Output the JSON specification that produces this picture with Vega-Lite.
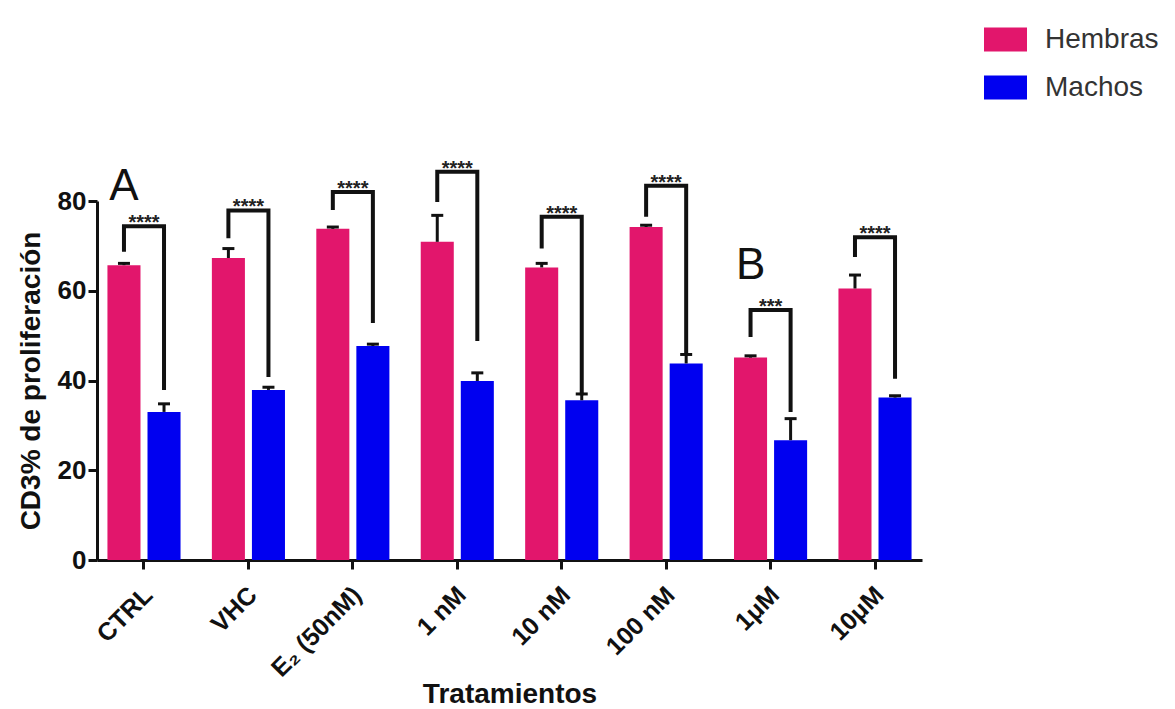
{
  "$schema": "https://vega.github.io/schema/vega-lite/v6.json",
  "width": 825,
  "height": 359,
  "autosize": {"type": "none"},
  "padding": {"left": 97, "top": 201, "right": 253, "bottom": 149},
  "background": "white",
  "config": {
    "view": {"stroke": null},
    "font": "Liberation Sans",
    "axis": {
      "grid": false,
      "domainColor": "#111",
      "domainWidth": 3,
      "tickColor": "#111",
      "tickWidth": 3,
      "tickSize": 9,
      "labelFont": "Liberation Sans",
      "labelFontWeight": "bold",
      "labelColor": "#111",
      "titleFont": "Liberation Sans",
      "titleFontWeight": "bold",
      "titleColor": "#111"
    },
    "legend": {
      "orient": "none",
      "legendX": 887,
      "legendY": -183,
      "symbolType": "M-1,-0.56H1V0.56H-1Z",
      "symbolSize": 1849,
      "symbolStrokeWidth": 0,
      "symbolOpacity": 1,
      "labelFont": "Liberation Sans",
      "labelFontSize": 28,
      "labelColor": "#333",
      "labelOffset": 18,
      "rowPadding": 12,
      "padding": 0
    }
  },
  "datasets": {
    "bars": [
      {"t": "CTRL", "sex": "Hembras", "v": 65.7, "hi": 66.1},
      {"t": "CTRL", "sex": "Machos", "v": 33.0, "hi": 34.8},
      {"t": "VHC", "sex": "Hembras", "v": 67.3, "hi": 69.4},
      {"t": "VHC", "sex": "Machos", "v": 37.9, "hi": 38.5},
      {"t": "E₂ (50nM)", "sex": "Hembras", "v": 73.8, "hi": 74.2},
      {"t": "E₂ (50nM)", "sex": "Machos", "v": 47.7, "hi": 48.1},
      {"t": "1 nM", "sex": "Hembras", "v": 70.9, "hi": 76.8},
      {"t": "1 nM", "sex": "Machos", "v": 39.9, "hi": 41.7},
      {"t": "10 nM", "sex": "Hembras", "v": 65.2, "hi": 66.1},
      {"t": "10 nM", "sex": "Machos", "v": 35.6, "hi": 37.0},
      {"t": "100 nM", "sex": "Hembras", "v": 74.2, "hi": 74.6},
      {"t": "100 nM", "sex": "Machos", "v": 43.8, "hi": 45.8},
      {"t": "1μM", "sex": "Hembras", "v": 45.1, "hi": 45.5},
      {"t": "1μM", "sex": "Machos", "v": 26.7, "hi": 31.5},
      {"t": "10μM", "sex": "Hembras", "v": 60.5, "hi": 63.5},
      {"t": "10μM", "sex": "Machos", "v": 36.2, "hi": 36.6}
    ],
    "brackets": [
      {"t": "CTRL", "sex": "Hembras", "v": 68.7, "o": 1},
      {"t": "CTRL", "sex": "Hembras", "v": 74.4, "o": 2},
      {"t": "CTRL", "sex": "Machos", "v": 74.4, "o": 3},
      {"t": "CTRL", "sex": "Machos", "v": 37.9, "o": 4},
      {"t": "VHC", "sex": "Hembras", "v": 71.7, "o": 1},
      {"t": "VHC", "sex": "Hembras", "v": 77.9, "o": 2},
      {"t": "VHC", "sex": "Machos", "v": 77.9, "o": 3},
      {"t": "VHC", "sex": "Machos", "v": 40.8, "o": 4},
      {"t": "E₂ (50nM)", "sex": "Hembras", "v": 78.0, "o": 1},
      {"t": "E₂ (50nM)", "sex": "Hembras", "v": 82.0, "o": 2},
      {"t": "E₂ (50nM)", "sex": "Machos", "v": 82.0, "o": 3},
      {"t": "E₂ (50nM)", "sex": "Machos", "v": 52.8, "o": 4},
      {"t": "1 nM", "sex": "Hembras", "v": 79.8, "o": 1},
      {"t": "1 nM", "sex": "Hembras", "v": 86.5, "o": 2},
      {"t": "1 nM", "sex": "Machos", "v": 86.5, "o": 3},
      {"t": "1 nM", "sex": "Machos", "v": 48.8, "o": 4},
      {"t": "10 nM", "sex": "Hembras", "v": 69.4, "o": 1},
      {"t": "10 nM", "sex": "Hembras", "v": 76.5, "o": 2},
      {"t": "10 nM", "sex": "Machos", "v": 76.5, "o": 3},
      {"t": "10 nM", "sex": "Machos", "v": 36.7, "o": 4},
      {"t": "100 nM", "sex": "Hembras", "v": 76.5, "o": 1},
      {"t": "100 nM", "sex": "Hembras", "v": 83.4, "o": 2},
      {"t": "100 nM", "sex": "Machos", "v": 83.4, "o": 3},
      {"t": "100 nM", "sex": "Machos", "v": 46.1, "o": 4},
      {"t": "1μM", "sex": "Hembras", "v": 49.7, "o": 1},
      {"t": "1μM", "sex": "Hembras", "v": 55.7, "o": 2},
      {"t": "1μM", "sex": "Machos", "v": 55.7, "o": 3},
      {"t": "1μM", "sex": "Machos", "v": 33.0, "o": 4},
      {"t": "10μM", "sex": "Hembras", "v": 67.5, "o": 1},
      {"t": "10μM", "sex": "Hembras", "v": 71.9, "o": 2},
      {"t": "10μM", "sex": "Machos", "v": 71.9, "o": 3},
      {"t": "10μM", "sex": "Machos", "v": 40.4, "o": 4}
    ],
    "stars": [
      {"t": "CTRL", "v": 74.4, "s": "****"},
      {"t": "VHC", "v": 77.9, "s": "****"},
      {"t": "E₂ (50nM)", "v": 82.0, "s": "****"},
      {"t": "1 nM", "v": 86.5, "s": "****"},
      {"t": "10 nM", "v": 76.5, "s": "****"},
      {"t": "100 nM", "v": 83.4, "s": "****"},
      {"t": "1μM", "v": 55.7, "s": "***"},
      {"t": "10μM", "v": 71.9, "s": "****"}
    ],
    "letters": [
      {"t": "CTRL", "sex": "Hembras", "v": 80.2, "s": "A"},
      {"t": "1μM", "sex": "Hembras", "v": 62.6, "s": "B"}
    ]
  },
  "encoding": {
    "x": {
      "field": "t",
      "type": "nominal",
      "sort": ["CTRL", "VHC", "E₂ (50nM)", "1 nM", "10 nM", "100 nM", "1μM", "10μM"],
      "scale": {"paddingInner": 0.3, "paddingOuter": 0.1},
      "axis": {
        "title": "Tratamientos",
        "labelAngle": -45,
        "labelFontSize": 25,
        "labelPadding": 13,
        "labelOffset": -4,
        "titleFontSize": 28,
        "titleBaseline": "alphabetic",
        "titleY": 142
      }
    },
    "y": {
      "field": "v",
      "type": "quantitative",
      "scale": {"domain": [0, 80], "nice": false},
      "axis": {
        "title": "CD3% de proliferación",
        "values": [0, 20, 40, 60, 80],
        "labelFontSize": 26,
        "labelPadding": 2,
        "titleFontSize": 28,
        "titleBaseline": "alphabetic",
        "titleX": -58,
        "titleY": 179.5
      }
    }
  },
  "layer": [
    {
      "data": {"name": "bars"},
      "mark": {"type": "bar"},
      "encoding": {
        "xOffset": {"field": "sex", "type": "nominal", "sort": ["Hembras", "Machos"], "scale": {"paddingInner": 0.175, "paddingOuter": 0}},
        "color": {
          "field": "sex",
          "type": "nominal",
          "scale": {"domain": ["Hembras", "Machos"], "range": ["#E2166C", "#0000F0"]},
          "legend": {"title": null}
        }
      }
    },
    {
      "data": {"name": "bars"},
      "mark": {"type": "rule", "color": "#111", "strokeWidth": 3},
      "encoding": {
        "xOffset": {"field": "sex", "type": "nominal", "sort": ["Hembras", "Machos"]},
        "y2": {"field": "hi"}
      }
    },
    {
      "data": {"name": "bars"},
      "mark": {"type": "tick", "color": "#111", "size": 12, "thickness": 3, "opacity": 1},
      "encoding": {
        "xOffset": {"field": "sex", "type": "nominal", "sort": ["Hembras", "Machos"]},
        "y": {"field": "hi", "type": "quantitative"}
      }
    },
    {
      "data": {"name": "brackets"},
      "mark": {"type": "line", "color": "#111", "strokeWidth": 4, "strokeJoin": "miter"},
      "encoding": {
        "xOffset": {"field": "sex", "type": "nominal", "sort": ["Hembras", "Machos"]},
        "detail": {"field": "t"},
        "order": {"field": "o", "type": "quantitative"}
      }
    },
    {
      "data": {"name": "stars"},
      "mark": {"type": "text", "fontSize": 20, "fontWeight": "bold", "color": "#222", "baseline": "alphabetic", "dy": 3},
      "encoding": {
        "text": {"field": "s"}
      }
    },
    {
      "data": {"name": "letters"},
      "mark": {"type": "text", "fontSize": 44, "color": "#111", "baseline": "alphabetic"},
      "encoding": {
        "xOffset": {"field": "sex", "type": "nominal", "sort": ["Hembras", "Machos"]},
        "text": {"field": "s"}
      }
    }
  ]
}
